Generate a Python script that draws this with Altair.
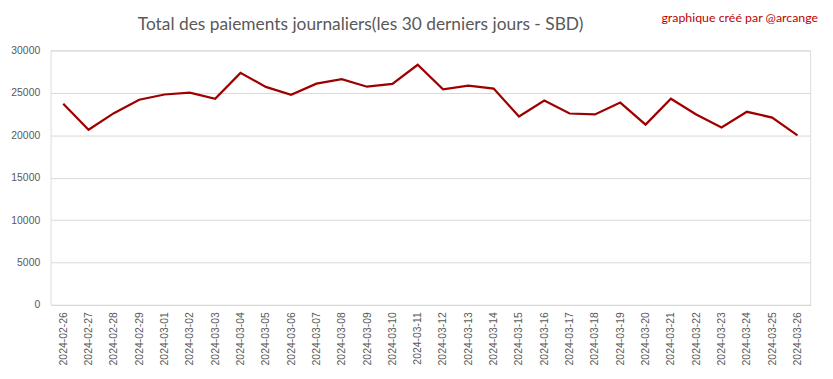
import altair as alt
import pandas as pd

dates = ["2024-02-26", "2024-02-27", "2024-02-28", "2024-02-29", "2024-03-01",
         "2024-03-02", "2024-03-03", "2024-03-04", "2024-03-05", "2024-03-06",
         "2024-03-07", "2024-03-08", "2024-03-09", "2024-03-10", "2024-03-11",
         "2024-03-12", "2024-03-13", "2024-03-14", "2024-03-15", "2024-03-16",
         "2024-03-17", "2024-03-18", "2024-03-19", "2024-03-20", "2024-03-21",
         "2024-03-22", "2024-03-23", "2024-03-24", "2024-03-25", "2024-03-26"]
payments = [23700, 20650, 22600, 24180, 24800, 25020, 24300, 27350, 25700, 24760,
            26080, 26620, 25720, 26060, 28300, 25400, 25840, 25500, 22200, 24100,
            22560, 22450, 23850, 21250, 24300, 22450, 20920, 22760, 22080, 19980]

title_text = "Total des paiements journaliers(les 30 derniers jours - SBD)"
credit_text = "graphique créé par @arcange"

df = pd.DataFrame({"date": dates, "total": payments})

gray = "#595959"

line = alt.Chart(df).mark_line(color="#9e0000", strokeWidth=2.25).encode(
    x=alt.X("date:N", sort=None, title=None,
            axis=alt.Axis(labelAngle=-90, labelFont="Liberation Sans", labelFontSize=10.5,
                          labelColor=gray, ticks=False, domainColor="#d9d9d9",
                          labelPadding=7, grid=False)),
    y=alt.Y("total:Q", title=None, scale=alt.Scale(domain=[0, 30000], nice=False),
            axis=alt.Axis(values=[0, 5000, 10000, 15000, 20000, 25000, 30000], format="d",
                          labelFont="Liberation Sans", labelFontSize=10.5, labelColor=gray,
                          ticks=False, domain=False, gridColor="#d9d9d9", labelPadding=11)),
)

title = alt.Chart(pd.DataFrame({"t": [title_text]})).mark_text(
    align="center", baseline="alphabetic", font="Lato", fontSize=17.5, color=gray
).encode(text="t:N", x=alt.value(313), y=alt.value(-21))

credit = alt.Chart(pd.DataFrame({"t": [credit_text]})).mark_text(
    align="right", baseline="alphabetic", font="Lato", fontSize=12.5, color="#c00000"
).encode(text="t:N", x=alt.value(775), y=alt.value(-29))

chart = alt.layer(line, title, credit).properties(
    width=767, height=257,
    padding={"left": 43, "top": 41, "right": 15, "bottom": 70},
    autosize=alt.AutoSizeParams(type="none"),
).configure_view(stroke=None).configure(background="white")

chart.save("out.html", embed_options={"renderer": "svg", "actions": False})
